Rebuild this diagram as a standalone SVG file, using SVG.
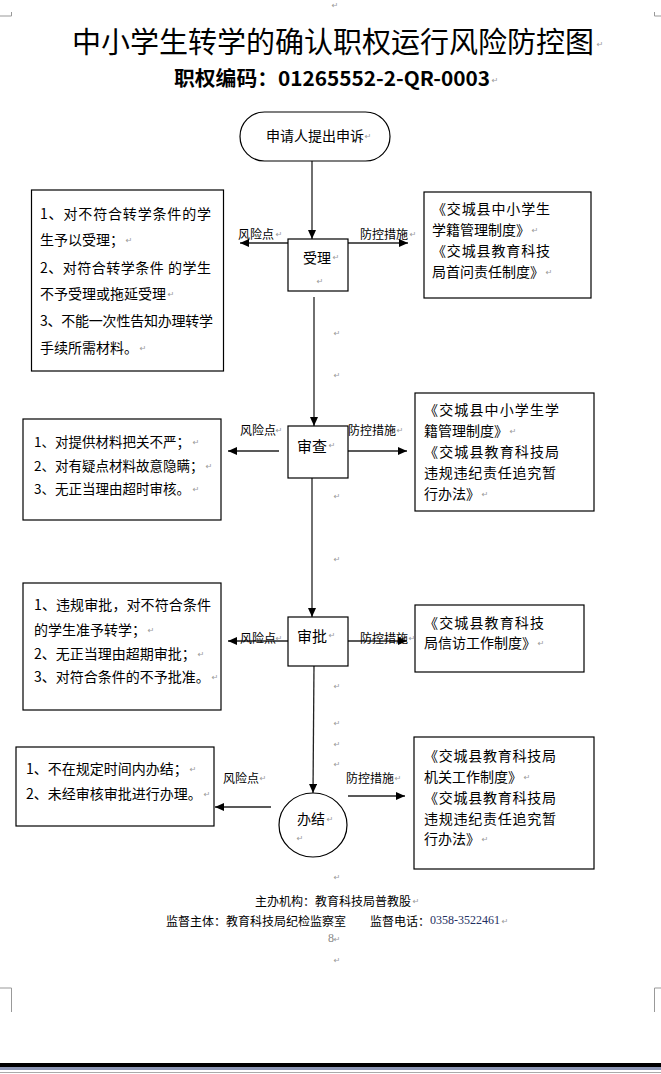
<svg xmlns="http://www.w3.org/2000/svg" width="661" height="1074" viewBox="0 0 661 1074">
<style>
  text { font-family: "Noto Sans CJK SC", "Noto Sans", sans-serif; fill: #000; dominant-baseline: central; }
  .title { font-size: 29px; }
  .sub { font-size: 20px; font-weight: bold; }
  .box { fill: #fff; stroke: #000; stroke-width: 1.2; }
  .node { font-size: 14px; }
  .lbl { font-size: 12px; }
  .t15 { font-size: 15px; }
  .t14 { font-size: 14px; }
  .t135 { font-size: 13.5px; }
  .foot { font-size: 12px; }
  .num { font-family: "Liberation Serif", serif; font-size: 12px; fill: #1f2f5f; }
  .pg { font-family: "Liberation Serif", serif; font-size: 12px; fill: #888; }
  .pm { font-family: "DejaVu Sans", sans-serif; font-size: 8px; fill: #999; text-anchor: middle; }
  .arr { stroke: #222; stroke-width: 1.3; fill: none; marker-end: url(#ah); }
  .crop { stroke: #999; stroke-width: 1; fill: none; }
</style>
<defs>
  <marker id="ah" markerUnits="userSpaceOnUse" markerWidth="10" markerHeight="8" refX="9" refY="4" orient="auto">
    <path d="M0,0 L9,4 L0,8 Z" fill="#000"/>
  </marker>
</defs>
<rect width="661" height="1074" fill="#fff"/>

<g id="page-marks">
  <path class="crop" d="M0,16 H11.5 V12"/>
  <path class="crop" d="M654.5,12 V16 H661"/>
  <path class="crop" d="M0,988 H11.5 V1012"/>
  <path class="crop" d="M661,988 H654.5 V1012"/>
  <rect x="0" y="1063" width="661" height="4" fill="#000"/>
  <rect x="0" y="1067" width="661" height="3" fill="#8c96b4"/>
  <line x1="0" y1="1072.5" x2="661" y2="1072.5" stroke="#aaa" stroke-width="1"/>
</g>

<g id="heading">
  <text class="title" x="72" y="40" textLength="522" lengthAdjust="spacingAndGlyphs">中小学生转学的确认职权运行风险防控图</text>
  <text class="sub" x="174" y="77" textLength="316" lengthAdjust="spacingAndGlyphs">职权编码：01265552-2-QR-0003</text>
</g>

<g id="connectors">
  <line class="arr" x1="312" y1="161" x2="312" y2="239"/>
  <line class="arr" x1="288" y1="243" x2="240" y2="243"/>
  <line class="arr" x1="348" y1="243" x2="408" y2="243"/>
  <line class="arr" x1="314" y1="297" x2="314" y2="426"/>
  <line class="arr" x1="279" y1="451" x2="228" y2="451"/>
  <line class="arr" x1="348" y1="451" x2="407" y2="451"/>
  <line class="arr" x1="312" y1="478" x2="312" y2="617"/>
  <line class="arr" x1="288" y1="641" x2="228" y2="641"/>
  <line class="arr" x1="348" y1="641" x2="407" y2="641"/>
  <line class="arr" x1="314" y1="665" x2="313" y2="793"/>
  <line class="arr" x1="271" y1="807" x2="215" y2="807"/>
  <line class="arr" x1="348" y1="796" x2="405" y2="796"/>
  <text class="lbl" x="238" y="233">风险点</text>
  <text class="lbl" x="360" y="233">防控措施</text>
  <text class="lbl" x="240" y="429">风险点</text>
  <text class="lbl" x="348" y="429">防控措施</text>
  <text class="lbl" x="240" y="637">风险点</text>
  <text class="lbl" x="360" y="637">防控措施</text>
  <text class="lbl" x="223" y="777">风险点</text>
  <text class="lbl" x="346" y="777">防控措施</text>
</g>

<g id="start">
  <rect class="box" x="240" y="112" width="150" height="49" rx="24.5"/>
  <text class="node" x="266" y="135">申请人提出申诉</text>
</g>

<g id="accept">
  <rect class="box" x="288" y="239" width="60" height="52"/>
  <text class="node" x="303" y="257">受理</text>
</g>

<g id="risk-accept">
  <rect class="box" x="31.5" y="190" width="192" height="181"/>
  <text class="t14" x="40" y="213" textLength="171" lengthAdjust="spacing">1、对不符合转学条件的学</text>
  <text class="t14" x="40" y="239">生予以受理；</text>
  <text class="t14" x="40" y="267" textLength="171" lengthAdjust="spacing">2、对符合转学条件 的学生</text>
  <text class="t14" x="40" y="293">不予受理或拖延受理</text>
  <text class="t14" x="40" y="320" textLength="173" lengthAdjust="spacing">3、不能一次性告知办理转学</text>
  <text class="t14" x="40" y="347">手续所需材料。</text>
</g>

<g id="measure-accept">
  <rect class="box" x="424" y="192" width="167" height="106"/>
  <text class="t14" x="432" y="208" textLength="118" lengthAdjust="spacing">《交城县中小学生</text>
  <text class="t14" x="432" y="229">学籍管理制度》</text>
  <text class="t14" x="432" y="250" textLength="118" lengthAdjust="spacing">《交城县教育科技</text>
  <text class="t14" x="432" y="271">局首问责任制度》</text>
</g>

<g id="review">
  <rect class="box" x="288" y="426" width="60" height="52"/>
  <text class="t15" x="297" y="445">审查</text>
</g>

<g id="risk-review">
  <rect class="box" x="23" y="419" width="198" height="101"/>
  <text class="t135" x="34" y="441">1、对提供材料把关不严；</text>
  <text class="t135" x="34" y="465">2、对有疑点材料故意隐瞒；</text>
  <text class="t135" x="34" y="488">3、无正当理由超时审核。</text>
</g>

<g id="measure-review">
  <rect class="box" x="415" y="393" width="179" height="118"/>
  <text class="t14" x="424" y="409" textLength="135" lengthAdjust="spacing">《交城县中小学生学</text>
  <text class="t14" x="424" y="430">籍管理制度》</text>
  <text class="t14" x="424" y="451" textLength="135" lengthAdjust="spacing">《交城县教育科技局</text>
  <text class="t14" x="424" y="472" textLength="132" lengthAdjust="spacing">违规违纪责任追究暂</text>
  <text class="t14" x="424" y="493">行办法》</text>
</g>

<g id="approve">
  <rect class="box" x="288" y="617" width="60" height="49"/>
  <text class="t15" x="297" y="635">审批</text>
</g>

<g id="risk-approve">
  <rect class="box" x="23" y="583" width="198" height="127"/>
  <text class="t14" x="34" y="604" textLength="177" lengthAdjust="spacing">1、违规审批，对不符合条件</text>
  <text class="t14" x="34" y="629">的学生准予转学；</text>
  <text class="t14" x="34" y="653">2、无正当理由超期审批；</text>
  <text class="t14" x="34" y="676">3、对符合条件的不予批准。</text>
</g>

<g id="measure-approve">
  <rect class="box" x="415" y="605" width="169" height="67"/>
  <text class="t14" x="424" y="622" textLength="120" lengthAdjust="spacing">《交城县教育科技</text>
  <text class="t14" x="424" y="642">局信访工作制度》</text>
</g>

<g id="finish">
  <ellipse class="box" cx="313" cy="825" rx="34" ry="32"/>
  <text class="node" x="297" y="818">办结</text>
</g>

<g id="risk-finish">
  <rect class="box" x="16" y="747" width="198" height="79"/>
  <text class="t14" x="26" y="768">1、不在规定时间内办结；</text>
  <text class="t14" x="26" y="793">2、未经审核审批进行办理。</text>
</g>

<g id="measure-finish">
  <rect class="box" x="414" y="737" width="180" height="132"/>
  <text class="t14" x="424" y="755" textLength="132" lengthAdjust="spacing">《交城县教育科技局</text>
  <text class="t14" x="424" y="776">机关工作制度》</text>
  <text class="t14" x="424" y="797" textLength="132" lengthAdjust="spacing">《交城县教育科技局</text>
  <text class="t14" x="424" y="818" textLength="132" lengthAdjust="spacing">违规违纪责任追究暂</text>
  <text class="t14" x="424" y="838">行办法》</text>
</g>

<g id="footer">
  <text class="foot" x="255" y="900">主办机构：教育科技局普教股</text>
  <text class="foot" x="166" y="920">监督主体：教育科技局纪检监察室</text>
  <text class="foot" x="370" y="920">监督电话：</text>
  <text class="num" x="430" y="920">0358-3522461</text>
  <text class="pg" x="328" y="938">8</text>
</g>

<g id="para-marks">
  <text class="pm" x="335" y="5">↵</text>
  <text class="pm" x="600" y="44">↵</text>
  <text class="pm" x="495" y="80">↵</text>
  <text class="pm" x="368" y="136">↵</text>
  <text class="pm" x="336" y="257">↵</text>
  <text class="pm" x="320" y="281">↵</text>
  <text class="pm" x="279" y="234">↵</text>
  <text class="pm" x="413" y="234">↵</text>
  <text class="pm" x="129" y="240">↵</text>
  <text class="pm" x="171" y="294">↵</text>
  <text class="pm" x="143" y="348">↵</text>
  <text class="pm" x="535" y="230">↵</text>
  <text class="pm" x="549" y="272">↵</text>
  <text class="pm" x="337" y="333">↵</text>
  <text class="pm" x="337" y="375">↵</text>
  <text class="pm" x="279" y="430">↵</text>
  <text class="pm" x="400" y="430">↵</text>
  <text class="pm" x="332" y="445">↵</text>
  <text class="pm" x="513" y="431">↵</text>
  <text class="pm" x="485" y="494">↵</text>
  <text class="pm" x="196" y="442">↵</text>
  <text class="pm" x="209" y="466">↵</text>
  <text class="pm" x="196" y="489">↵</text>
  <text class="pm" x="337" y="496">↵</text>
  <text class="pm" x="337" y="559">↵</text>
  <text class="pm" x="279" y="638">↵</text>
  <text class="pm" x="412" y="638">↵</text>
  <text class="pm" x="332" y="635">↵</text>
  <text class="pm" x="541" y="643">↵</text>
  <text class="pm" x="151" y="630">↵</text>
  <text class="pm" x="201" y="654">↵</text>
  <text class="pm" x="215" y="677">↵</text>
  <text class="pm" x="337" y="686">↵</text>
  <text class="pm" x="337" y="723">↵</text>
  <text class="pm" x="337" y="744">↵</text>
  <text class="pm" x="337" y="764">↵</text>
  <text class="pm" x="263" y="778">↵</text>
  <text class="pm" x="398" y="778">↵</text>
  <text class="pm" x="330" y="819">↵</text>
  <text class="pm" x="300" y="838">↵</text>
  <text class="pm" x="527" y="777">↵</text>
  <text class="pm" x="485" y="839">↵</text>
  <text class="pm" x="193" y="769">↵</text>
  <text class="pm" x="207" y="794">↵</text>
  <text class="pm" x="337" y="877">↵</text>
  <text class="pm" x="416" y="901">↵</text>
  <text class="pm" x="505" y="921">↵</text>
  <text class="pm" x="337" y="939">↵</text>
  <text class="pm" x="337" y="960">↵</text>
</g>
</svg>
